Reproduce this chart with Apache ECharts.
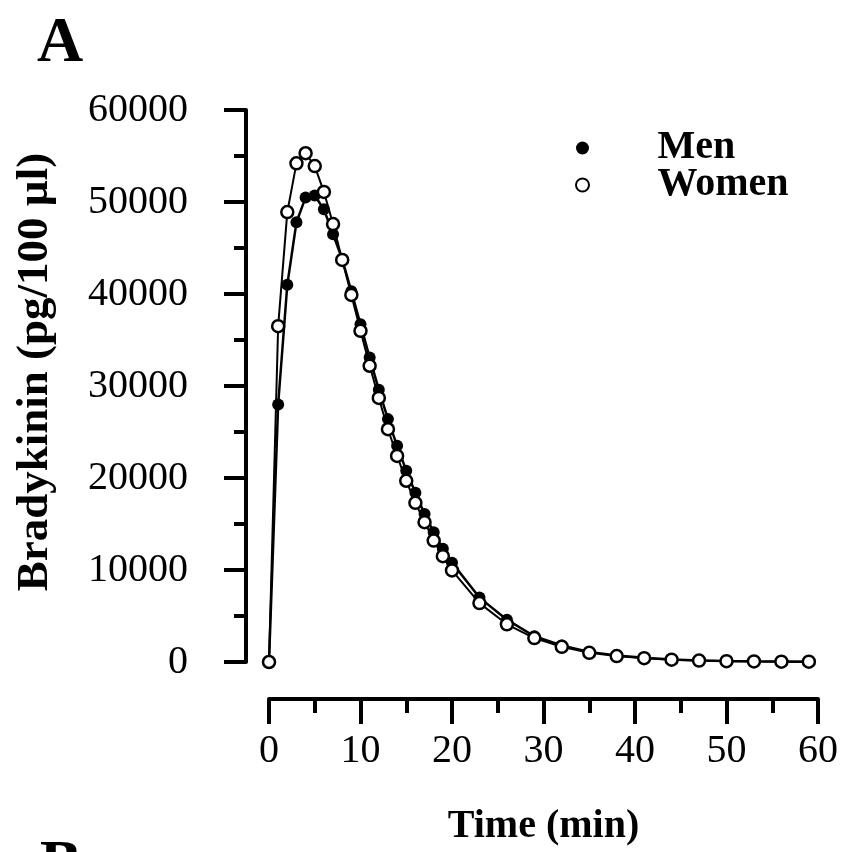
<!DOCTYPE html>
<html>
<head>
<meta charset="utf-8">
<script src="https://cdn.jsdelivr.net/npm/echarts@6/dist/echarts.min.js"></script>
<style>
html,body{margin:0;padding:0;background:#fff;}
#chart{width:853px;height:852px;}
</style>
</head>
<body>
<div id="chart"></div>
<script>
// Time points (min)
const times = [0,1,2,3,4,5,6,7,8,9,10,11,12,13,14,15,16,17,18,19,20,23,26,29,32,35,38,41,44,47,50,53,56,59];
// Bradykinin (pg/100 µl)
const menValues = [0,28000,41000,47800,50500,50700,49200,46500,43800,40300,36700,33100,29600,26400,23500,20800,18400,16100,14100,12300,10800,7000,4600,2800,1800,1100,700,450,280,170,100,70,50,30];
const womenValues = [0,36500,48900,54200,55300,53900,51100,47600,43700,39900,36000,32200,28700,25300,22400,19700,17300,15200,13200,11500,9950,6400,4100,2600,1650,1000,650,420,250,150,90,60,40,30];
const seriesNames = ['Men','Women'];
const xTicks = {min:0,max:60,interval:10};
const yTicks = {min:0,max:60000,interval:10000};
const xTitle = 'Time (min)';
const yTitle = 'Bradykinin (pg/100 \u00b5l)';

const FONT = 'Liberation Serif';
const chart = echarts.init(document.getElementById('chart'), null, {renderer:'canvas'});
const pair = (xs, ys) => xs.map((x,i)=>[x, ys[i]]);

const option = {
  backgroundColor:'#ffffff',
  animation:false,
  grid:{left:269,right:35,top:110,bottom:189,containLabel:false},
  legend:{
    orient:'vertical', left:570, top:123, itemGap:-3,
    itemWidth:140, itemHeight:13, icon:'circle',
    textStyle:{fontFamily:FONT,fontWeight:'bold',fontSize:40,color:'#000',padding:[0,0,0,0]},
    data:seriesNames
  },
  xAxis:{
    type:'value', min:xTicks.min, max:xTicks.max, interval:xTicks.interval,
    offset:37,
    name:xTitle, nameLocation:'middle', nameGap:108,
    nameTextStyle:{fontFamily:FONT,fontWeight:'bold',fontSize:40,color:'#000'},
    axisLine:{show:true,onZero:false,lineStyle:{color:'#000',width:4}},
    axisTick:{show:true,length:25,lineStyle:{color:'#000',width:4}},
    minorTick:{show:true,splitNumber:2,length:14,lineStyle:{color:'#000',width:4}},
    axisLabel:{fontFamily:FONT,fontSize:40,color:'#000',margin:32},
    splitLine:{show:false}
  },
  yAxis:{
    type:'value', min:yTicks.min, max:yTicks.max, interval:yTicks.interval,
    offset:23,
    axisLine:{show:true,onZero:false,lineStyle:{color:'#000',width:4}},
    axisTick:{show:true,length:22,lineStyle:{color:'#000',width:4}},
    minorTick:{show:true,splitNumber:2,length:12,lineStyle:{color:'#000',width:4}},
    axisLabel:{fontFamily:FONT,fontSize:40,color:'#000',margin:58,formatter:v=>String(v)},
    splitLine:{show:false}
  },
  graphic:[
    {type:'text',left:37,top:12,style:{text:'A',font:'bold 64px "Liberation Serif"',fill:'#000'}},
    {type:'text',left:40,top:835,style:{text:'B',font:'bold 62px "Liberation Serif"',fill:'#000'}},
    {type:'text',x:35,y:372,rotation:Math.PI/2,
     style:{text:yTitle,font:'bold 45px "Liberation Serif"',fill:'#000',align:'center',verticalAlign:'middle'}}
  ],
  series:[
    {
      name:seriesNames[0], type:'line', data:pair(times,menValues),
      symbol:'circle', symbolSize:12, showAllSymbol:true, z:2,
      lineStyle:{color:'#000',width:2.5},
      itemStyle:{color:'#000',borderColor:'#000',borderWidth:0}
    },
    {
      name:seriesNames[1], type:'line', data:pair(times,womenValues),
      symbol:'circle', symbolSize:12, showAllSymbol:true, z:3,
      lineStyle:{color:'#000',width:2},
      itemStyle:{color:'#fff',borderColor:'#000',borderWidth:2.5}
    }
  ]
};
chart.setOption(option);
</script>
</body>
</html>
